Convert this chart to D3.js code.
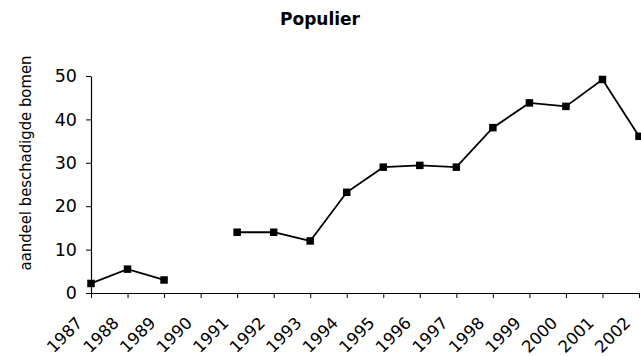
<!DOCTYPE html>
<html>
<head>
<meta charset="utf-8">
<script src="https://cdn.jsdelivr.net/npm/d3@7"></script>
<style>
  html, body { margin: 0; padding: 0; background: #fff; }
  svg text { font-family: "DejaVu Sans", Verdana, sans-serif; fill: #000; }
</style>
</head>
<body>
<svg id="chart" width="641" height="356"></svg>
<script>
// Share of damaged poplar trees per year (no survey in 1990)
const years = ["1987","1988","1989","1990","1991","1992","1993","1994","1995","1996","1997","1998","1999","2000","2001","2002"];
const values = [2.2, 5.5, 3.0, null, 14.0, 14.0, 12.0, 23.2, 29.0, 29.4, 29.0, 38.1, 43.8, 43.0, 49.2, 36.1];
const yTicks = [0, 10, 20, 30, 40, 50];
const title = "Populier";
const yLabel = "aandeel beschadigde bomen";

const svg = d3.select("#chart");
const plotLeft = 91, plotRight = 639, plotTop = 76, plotBottom = 293;

const x = d3.scalePoint().domain(years).range([plotLeft, plotRight]);
const y = d3.scaleLinear().domain([0, 50]).range([plotBottom, plotTop]);

// Title
svg.append("text")
  .attr("x", 320).attr("y", 25)
  .attr("text-anchor", "middle")
  .style("font-size", "17px").style("font-weight", "bold")
  .text(title);

// Y axis
const yAxis = svg.append("g")
  .attr("transform", `translate(${plotLeft},0)`)
  .call(d3.axisLeft(y).tickValues(yTicks).tickSize(5).tickPadding(9).tickSizeOuter(0));
yAxis.select(".domain").attr("stroke", "#000").attr("stroke-width", 1.2);
yAxis.selectAll(".tick line").attr("stroke", "#000");
yAxis.selectAll(".tick text").style("font-size", "17.5px").attr("font-family", null);

// X axis
const xAxis = svg.append("g")
  .attr("transform", `translate(0,${plotBottom})`)
  .call(d3.axisBottom(x).tickSize(5).tickSizeOuter(0));
xAxis.select(".domain").attr("stroke", "#000").attr("stroke-width", 1.2);
xAxis.selectAll(".tick line").attr("stroke", "#000");
xAxis.selectAll(".tick text")
  .style("font-size", "16.5px").attr("font-family", null)
  .attr("text-anchor", "end")
  .attr("dy", null)
  .attr("transform", "translate(-8,31) rotate(-45)")
  .attr("x", 0).attr("y", 0);

// Y axis title (condensed face keeps it within the plot height)
svg.append("text")
  .attr("transform", "translate(31,163) rotate(-90)")
  .attr("text-anchor", "middle")
  .style("font-family", "'DejaVu Sans Condensed', 'DejaVu Sans', sans-serif")
  .style("font-stretch", "condensed")
  .style("font-size", "16.5px")
  .text(yLabel);

// Series line with a gap for the missing year
const pts = years.map((yr, i) => ({ yr, v: values[i] }));
const line = d3.line()
  .defined(d => d.v !== null)
  .x(d => x(d.yr))
  .y(d => y(d.v));

svg.append("path")
  .datum(pts)
  .attr("fill", "none")
  .attr("stroke", "#000")
  .attr("stroke-width", 1.8)
  .attr("d", line);

// Square markers
const ms = 7.5;
svg.append("g").selectAll("rect")
  .data(pts.filter(d => d.v !== null))
  .join("rect")
  .attr("x", d => x(d.yr) - ms / 2)
  .attr("y", d => y(d.v) - ms / 2)
  .attr("width", ms).attr("height", ms)
  .attr("fill", "#000");
</script>
</body>
</html>
